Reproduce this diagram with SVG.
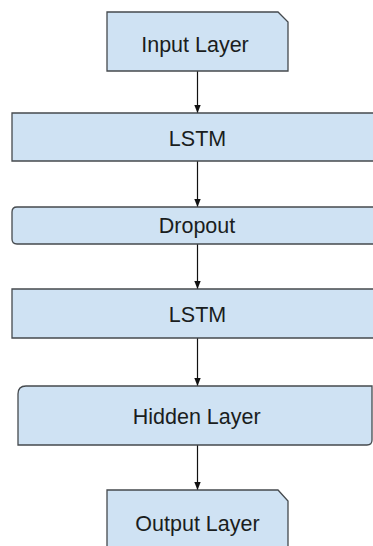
<svg xmlns="http://www.w3.org/2000/svg" width="373" height="546" viewBox="0 0 373 546">
  <style>
    .box { fill: #cfe2f3; stroke: #454a4e; stroke-width: 1.3; }
    .label { font-family: "Liberation Sans", Arial, sans-serif; font-size: 21.5px; fill: #1a1d20; text-anchor: middle; }
    .edge { stroke: #111; stroke-width: 1.2; fill: none; marker-end: url(#arrow); }
  </style>
  <defs>
    <marker id="arrow" viewBox="0 0 8 8" refX="8" refY="4" markerWidth="8" markerHeight="8" markerUnits="userSpaceOnUse" orient="auto">
      <path d="M0,0.8 L8,4 L0,7.2 Z" fill="#111"/>
    </marker>
  </defs>
  <rect width="373" height="546" fill="#ffffff"/>

  <g id="connectors">
    <line class="edge" x1="197.5" y1="71" x2="197.5" y2="113"/>
    <line class="edge" x1="197.5" y1="161" x2="197.5" y2="207"/>
    <line class="edge" x1="197.5" y1="244" x2="197.5" y2="289"/>
    <line class="edge" x1="197.5" y1="338" x2="197.5" y2="386"/>
    <line class="edge" x1="197.5" y1="445" x2="197.5" y2="490"/>
  </g>

  <g id="input-layer">
    <path class="box" d="M107,12 H278 L288,22 V71 H107 Z"/>
    <text class="label" x="195" y="51.5">Input Layer</text>
  </g>

  <g id="lstm-1">
    <path class="box" d="M374,113 H12 V161 H374"/>
    <text class="label" x="197.5" y="146" font-size="22">LSTM</text>
  </g>

  <g id="dropout">
    <path class="box" d="M374,207 H17 Q12,207 12,212 V239 Q12,244 17,244 H374"/>
    <text class="label" x="197" y="233">Dropout</text>
  </g>

  <g id="lstm-2">
    <path class="box" d="M374,289 H12 V338 H374"/>
    <text class="label" x="197.5" y="321.5" font-size="22">LSTM</text>
  </g>

  <g id="hidden-layer">
    <path class="box" d="M26,386 H372 V440 Q372,445 367,445 H18 V394 Q18,386 26,386 Z"/>
    <text class="label" x="196.7" y="424">Hidden Layer</text>
  </g>

  <g id="output-layer">
    <path class="box" d="M107,548 V490 H278 L288,501 V548"/>
    <text class="label" x="197.5" y="531">Output Layer</text>
  </g>
</svg>
